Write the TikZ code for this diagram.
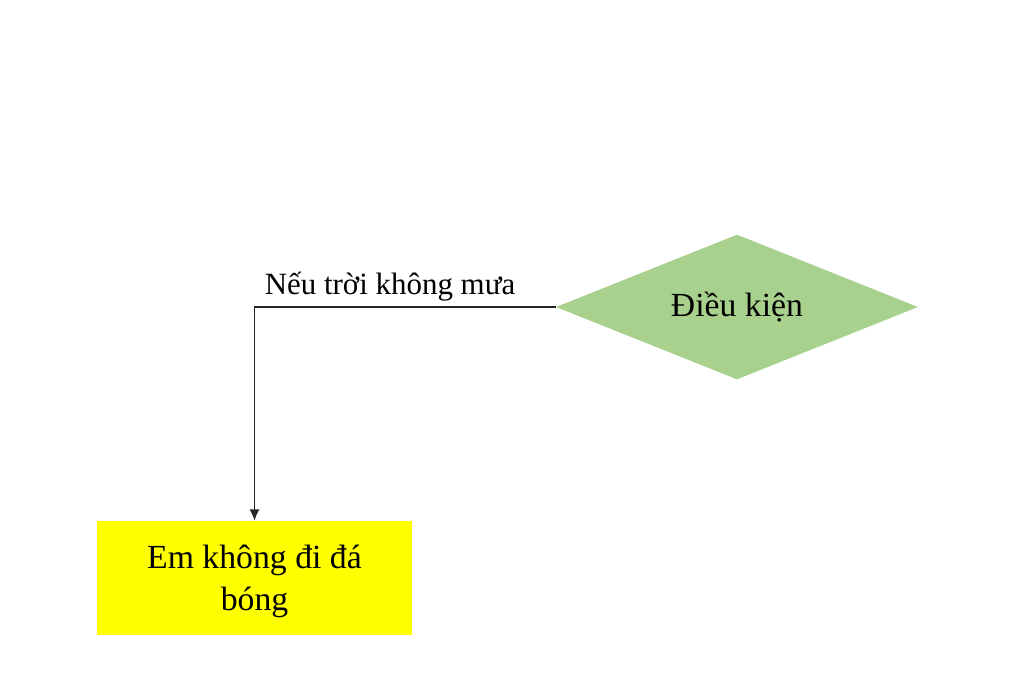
\documentclass[tikz,border=0pt]{standalone}
\usepackage{fontspec}
\setmainfont{Liberation Serif}
\usetikzlibrary{shapes.geometric,arrows.meta}
\definecolor{condgreen}{HTML}{A9D18E}
\definecolor{boxyellow}{HTML}{FFFF00}
\tikzset{
	cond/.style={diamond, aspect=2.5, fill=condgreen, inner sep=0pt, minimum width=9.05cm, minimum height=3.62cm, font=\fontsize{24}{30}\selectfont},
	resbox/.style={rectangle, fill=boxyellow, minimum width=7.875cm, minimum height=2.85cm, align=center, font=\fontsize{24}{30}\selectfont},
	flow/.style={draw=black!85, line width=0.8pt, -{Latex[length=8pt,width=7pt]}}
}
\begin{document}
\begin{tikzpicture}[x=0.025cm, y=-0.025cm]
	\useasboundingbox (0,0) rectangle (1024,680);
	% decision
	\node[cond] (dk) at (737,307) {Điều kiện};
	% result
	\node[resbox] (em) at (254.5,578) {};
	\node[align=center, font=\fontsize{24}{30}\selectfont] (emtxt) at (254.5,581) {Em không đi đá\\bóng};
	\draw[flow] (dk.west) -| (em.north);
	\node[font=\fontsize{22}{26}\selectfont] (neu) at (390,287) {Nếu trời không mưa};
\end{tikzpicture}
\end{document}
